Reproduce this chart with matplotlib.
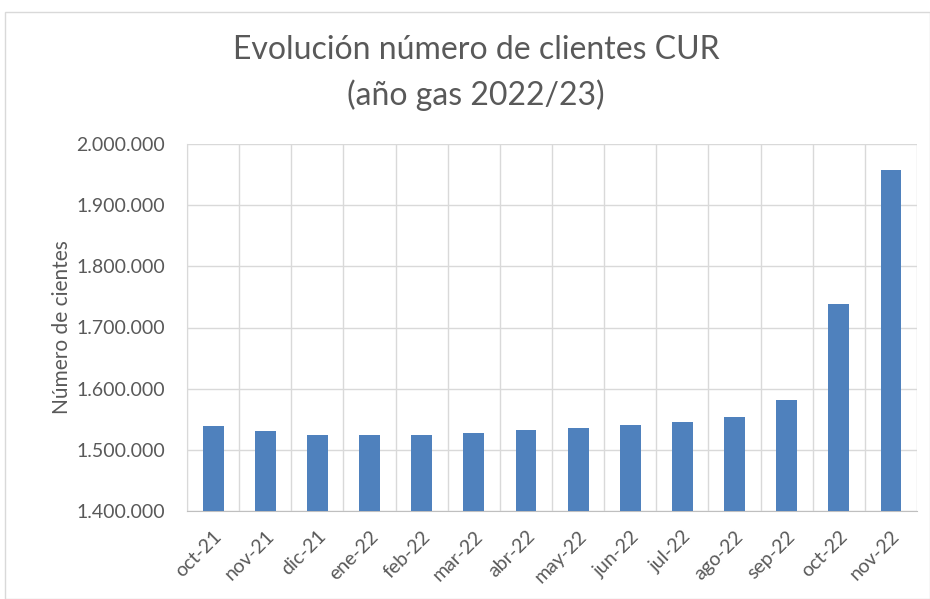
import numpy as np
import matplotlib
matplotlib.use("Agg")
import matplotlib.pyplot as plt
from matplotlib.ticker import FuncFormatter, MultipleLocator
from matplotlib.patches import Rectangle

months = ["oct-21", "nov-21", "dic-21", "ene-22", "feb-22", "mar-22", "abr-22",
          "may-22", "jun-22", "jul-22", "ago-22", "sep-22", "oct-22", "nov-22"]
clients = [1539000, 1531000, 1525000, 1525000, 1525000, 1527000, 1532000,
           1536000, 1540000, 1545000, 1554000, 1581000, 1739000, 1957000]

plt.rcParams["font.family"] = ["Lato", "DejaVu Sans"]
TXT = "#595959"

fig = plt.figure(figsize=(9.30, 5.99), dpi=100)
fig.patches.append(Rectangle((5 / 930, 0), 925 / 930, 1 - 12 / 599, transform=fig.transFigure,
                             fill=False, edgecolor="#D9D9D9", linewidth=1))
ax = fig.add_axes([187 / 930, 1 - 511 / 599, (917 - 187) / 930, (511 - 144) / 599])

x = np.arange(len(months))
ax.bar(x, clients, width=0.4, color="#4F81BD", zorder=3)

ax.set_ylim(1400000, 2000000)
ax.set_xlim(-0.5, len(months) - 0.5)
ax.yaxis.set_major_locator(MultipleLocator(100000))
ax.yaxis.set_major_formatter(FuncFormatter(lambda v, p: f"{int(v):,}".replace(",", ".")))
ax.set_xticks(x)
ax.set_xticklabels(months, rotation=45, ha="right", rotation_mode="anchor")
ax.set_xticks(np.arange(-0.5, len(months), 1), minor=True)

ax.grid(axis="y", which="major", color="#D9D9D9", linewidth=1, zorder=0)
ax.grid(axis="x", which="minor", color="#D9D9D9", linewidth=1, zorder=0)
ax.tick_params(axis="both", which="both", length=0, colors=TXT, labelsize=14)
ax.tick_params(axis="y", pad=16)
ax.tick_params(axis="x", pad=12)

for side in ["top", "right"]:
    ax.spines[side].set_visible(False)
ax.spines["left"].set_color("#D9D9D9")
ax.spines["bottom"].set_color("#BFBFBF")

ax.set_ylabel("Número de cientes", fontsize=15, color=TXT, labelpad=3)
fig.text(0.512, 1 - 73 / 599, "Evolución número de clientes CUR\n(año gas 2022/23)",
         ha="center", va="center", fontsize=23, color=TXT, linespacing=1.55)

plt.savefig("out.png", dpi=100, facecolor="white")
plt.close()
